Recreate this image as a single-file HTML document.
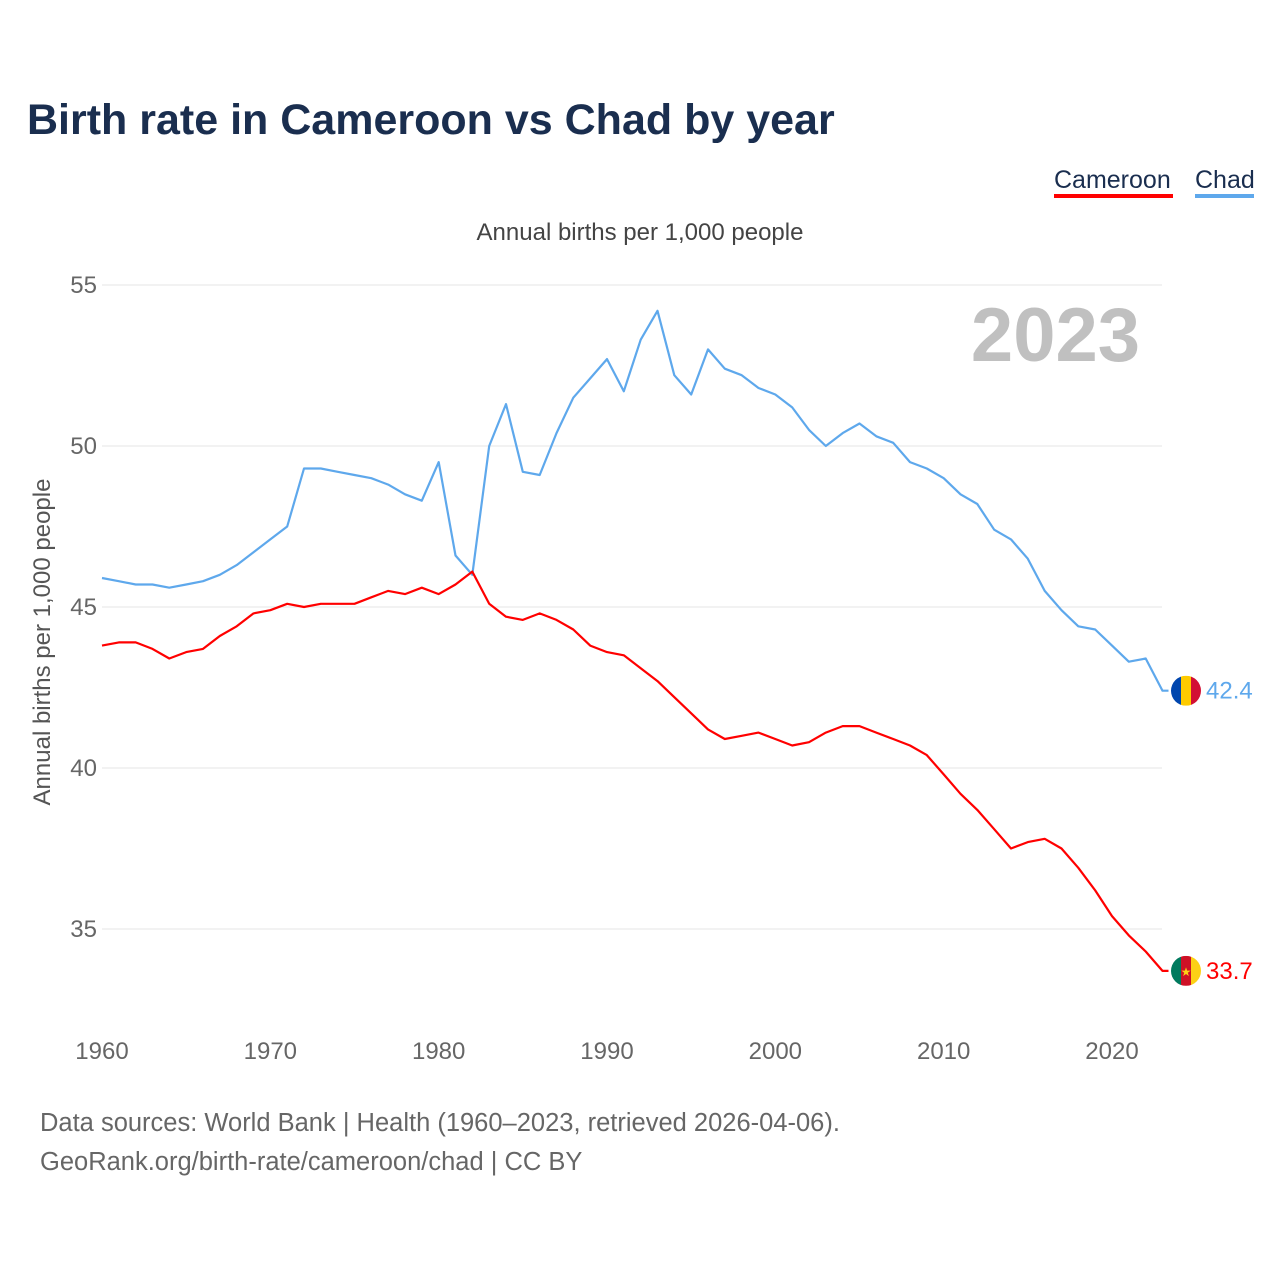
<!DOCTYPE html>
<html><head><meta charset="utf-8"><style>
body{margin:0;background:#fff;font-family:"Liberation Sans",sans-serif;}
</style></head><body>
<svg width="1280" height="1280" viewBox="0 0 1280 1280" style="display:block">
<text x="27" y="134" font-size="43" font-weight="bold" fill="#1a2e4f">Birth rate in Cameroon vs Chad by year</text>
<g>
<text x="1054" y="188" font-size="25" fill="#1a2e4f">Cameroon</text>
<rect x="1054" y="194" width="119" height="4" fill="#ff0000"/>
<text x="1195" y="188" font-size="25" fill="#1a2e4f">Chad</text>
<rect x="1195" y="194" width="59" height="4" fill="#5ea8ec"/>
</g>
<text x="640" y="240" font-size="24" fill="#444" text-anchor="middle">Annual births per 1,000 people</text>
<text transform="translate(50,642) rotate(-90)" font-size="24" fill="#555" text-anchor="middle">Annual births per 1,000 people</text>
<text x="1140" y="361" font-size="76" font-weight="bold" fill="#c0c0c0" text-anchor="end">2023</text>
<g id="grid"></g><g id="xt"></g><g id="lines"></g><g id="ends"></g>
<text x="40" y="1131" font-size="25.5" fill="#666">Data sources: World Bank | Health (1960–2023, retrieved 2026-04-06).</text>
<text x="40" y="1170" font-size="25.5" fill="#666">GeoRank.org/birth-rate/cameroon/chad | CC BY</text>
</svg>
<script>
const years=[];for(let y=1960;y<=2023;y++)years.push(y);
const yTicks=[35,40,45,50,55];
const xTicks=[1960,1970,1980,1990,2000,2010,2020];
const cameroon=[43.8,43.9,43.9,43.7,43.4,43.6,43.7,44.1,44.4,44.8,44.9,45.1,45.0,45.1,45.1,45.1,45.3,45.5,45.4,45.6,45.4,45.7,46.1,45.1,44.7,44.6,44.8,44.6,44.3,43.8,43.6,43.5,43.1,42.7,42.2,41.7,41.2,40.9,41.0,41.1,40.9,40.7,40.8,41.1,41.3,41.3,41.1,40.9,40.7,40.4,39.8,39.2,38.7,38.1,37.5,37.7,37.8,37.5,36.9,36.2,35.4,34.8,34.3,33.7];
const chad=[45.9,45.8,45.7,45.7,45.6,45.7,45.8,46.0,46.3,46.7,47.1,47.5,49.3,49.3,49.2,49.1,49.0,48.8,48.5,48.3,49.5,46.6,46.0,50.0,51.3,49.2,49.1,50.4,51.5,52.1,52.7,51.7,53.3,54.2,52.2,51.6,53.0,52.4,52.2,51.8,51.6,51.2,50.5,50.0,50.4,50.7,50.3,50.1,49.5,49.3,49.0,48.5,48.2,47.4,47.1,46.5,45.5,44.9,44.4,44.3,43.8,43.3,43.4,42.4];
const X=y=>102+(y-1960)*(1010/60);
const Y=v=>285+(55-v)*32.2;
const NS="http://www.w3.org/2000/svg";
function mk(t,a,p){const e=document.createElementNS(NS,t);for(const k in a)e.setAttribute(k,a[k]);p.appendChild(e);return e;}
const g=document.getElementById('grid');
yTicks.forEach(v=>{
 const l=mk('line',{x1:102,x2:1162,y1:Y(v),y2:Y(v),stroke:'#e6e6e6','stroke-width':1},g);
 
 
 const t=mk('text',{x:97,y:Y(v)+8,'font-size':24,fill:'#666','text-anchor':'end'},g);
 t.textContent=v;
 
 
});
const xt=document.getElementById('xt');
xTicks.forEach(y=>{
 const t=mk('text',{x:X(y),y:1059,'font-size':24,fill:'#666','text-anchor':'middle'},xt);
 t.textContent=y;
 
 
});
const L=document.getElementById('lines');
function line(vals,col,name){
 let d=vals.map((v,i)=>(i?'L':'M')+X(years[i]).toFixed(1)+','+Y(v).toFixed(1)).join(' ');
 d+=' L'+(X(2023)+6).toFixed(1)+','+Y(vals[vals.length-1]).toFixed(1);
 const p=mk('path',{d:d,fill:'none',stroke:col,'stroke-width':2.2,'stroke-linejoin':'round'},L);
 
 
}
line(chad,'#5ea8ec','chad-line');
line(cameroon,'#ff0000','cameroon-line');
const E=document.getElementById('ends');
function flag(v,cols,name,label,col){
 const cy=Y(v),cx=1186,r=15;
 const gg=mk('g',{},E);
 
 
 const cp=mk('clipPath',{id:'c'+name},gg);mk('circle',{cx:cx,cy:cy,r:r},cp);
 cols.forEach((c,i)=>mk('rect',{x:cx-r+i*10,y:cy-r,width:10.1,height:30,fill:c,'clip-path':'url(#c'+name+')'},gg));
 if(name==='cameroon')mk('text',{x:cx,y:cy+5,'font-size':12,fill:'#fcd116','text-anchor':'middle'},gg).textContent='★';
 const t=mk('text',{x:1206,y:cy+8,'font-size':24,fill:col},E);
 t.textContent=label;
 
 
}
flag(chad[chad.length-1],['#0046ae','#fecb00','#d21034'],'chad',chad[chad.length-1].toFixed(1),'#5ea8ec');
flag(cameroon[cameroon.length-1],['#007a5e','#ce1126','#fcd116'],'cameroon',cameroon[cameroon.length-1].toFixed(1),'#ff0000');
</script>
</body></html>
